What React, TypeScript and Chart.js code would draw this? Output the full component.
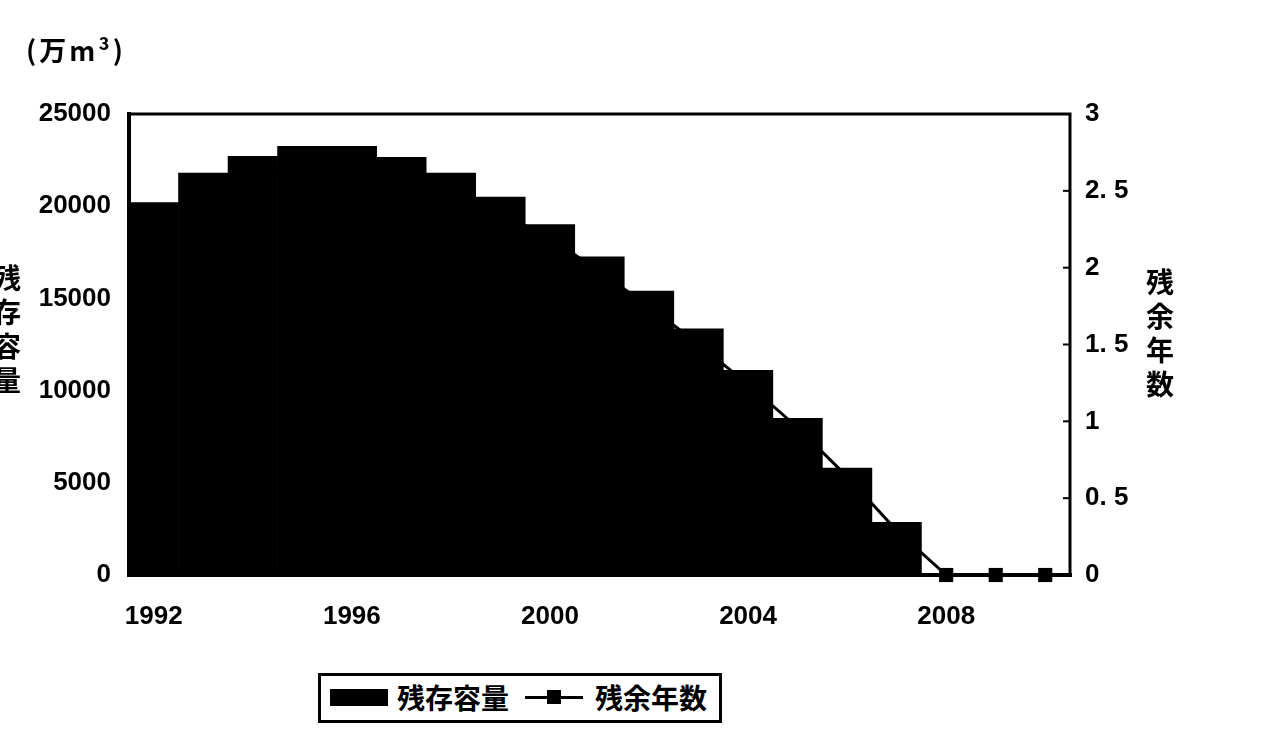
import React, { useEffect, useRef } from "react";
import { Chart, registerables } from "chart.js";

Chart.register(...registerables);

const years = [
  "1992", "1993", "1994", "1995", "1996", "1997", "1998", "1999", "2000", "2001",
  "2002", "2003", "2004", "2005", "2006", "2007", "2008", "2009", "2010",
];
const shownYearLabels = ["1992", "1996", "2000", "2004", "2008"];
// 残存容量 (万m³)
const capacity = [
  20200, 21800, 22700, 23250, 23250, 22650, 21800, 20500, 19000, 17250,
  15400, 13350, 11100, 8500, 5800, 2850, 0, 0, 0,
];
// 残余年数
const remainingYears = [
  2.3, 2.5, 2.6, 2.62, 2.6, 2.6, 2.44, 2.35, 2.2, 1.97,
  1.75, 1.5, 1.24, 0.96, 0.64, 0.29, 0, 0, 0,
];
const leftMax = 25000;
const leftStep = 5000;
const rightMax = 3;
const rightStep = 0.5;

const TICK_FONT = { family: "'Liberation Sans', Arial, sans-serif", size: 26, weight: "bold" as const };
const CJK = "'Noto Sans CJK JP', 'Noto Sans CJK SC', sans-serif";

const framePlugin = {
  id: "frame",
  afterDraw(chart: any) {
    const { ctx, chartArea } = chart;
    const { left, right, top, bottom } = chartArea;
    ctx.save();
    ctx.strokeStyle = "#000";
    ctx.lineCap = "square";
    ctx.lineWidth = 3;
    ctx.beginPath();
    ctx.moveTo(left, top);
    ctx.lineTo(right, top);
    ctx.lineTo(right, bottom);
    ctx.stroke();
    ctx.lineWidth = 4;
    ctx.beginPath();
    ctx.moveTo(left, top);
    ctx.lineTo(left, bottom);
    ctx.lineTo(right, bottom);
    ctx.stroke();
    const y1 = chart.scales.y1;
    ctx.lineWidth = 2;
    y1.ticks.forEach((t: any) => {
      const py = y1.getPixelForValue(t.value);
      ctx.beginPath();
      ctx.moveTo(right, py);
      ctx.lineTo(right - 6, py);
      ctx.stroke();
    });
    ctx.restore();
  },
};

export default function App() {
  const canvasRef = useRef<HTMLCanvasElement | null>(null);

  useEffect(() => {
    if (!canvasRef.current) return;
    const chart = new Chart(canvasRef.current, {
      type: "bar",
      data: {
        labels: years,
        datasets: [
          {
            type: "line" as const,
            label: "残余年数",
            data: remainingYears,
            yAxisID: "y1",
            borderColor: "#000",
            backgroundColor: "#000",
            borderWidth: 3,
            pointStyle: "rect",
            pointRadius: 10,
            pointBackgroundColor: "#000",
            pointBorderColor: "#000",
            pointBorderWidth: 0,
            tension: 0,
            clip: false as any,
            order: 1,
          },
          {
            type: "bar" as const,
            label: "残存容量",
            data: capacity,
            yAxisID: "y",
            backgroundColor: "#000",
            borderWidth: 0,
            categoryPercentage: 1,
            barPercentage: 1,
            order: 0,
          },
        ],
      },
      options: {
        animation: false,
        responsive: false,
        events: [],
        layout: { padding: { top: 114, left: 0, right: 0, bottom: 0 } },
        plugins: {
          legend: { display: false },
          tooltip: { enabled: false },
          title: { display: false },
        },
        scales: {
          x: {
            type: "category",
            offset: true,
            grid: { display: false, drawTicks: false },
            border: { display: false },
            ticks: {
              autoSkip: false,
              maxRotation: 0,
              minRotation: 0,
              padding: 26,
              color: "#000",
              font: TICK_FONT,
              callback: (_v: any, i: number) => (shownYearLabels.includes(years[i]) ? years[i] : ""),
            },
            afterFit: (s: any) => {
              s.height = 171;
            },
          },
          y: {
            position: "left",
            min: 0,
            max: leftMax,
            grid: { display: false, drawTicks: false },
            border: { display: false },
            ticks: {
              stepSize: leftStep,
              padding: 18,
              color: "#000",
              font: TICK_FONT,
              callback: (v: any) => String(v),
            },
            afterFit: (s: any) => {
              s.width = 129;
            },
          },
          y1: {
            position: "right",
            min: 0,
            max: rightMax,
            grid: { display: false, drawTicks: false },
            border: { display: false },
            ticks: {
              stepSize: rightStep,
              padding: 15,
              color: "#000",
              font: TICK_FONT,
              callback: (v: any) => String(v).replace(".", ". "),
            },
            afterFit: (s: any) => {
              s.width = 210;
            },
          },
        },
      },
      plugins: [framePlugin],
    });
    return () => chart.destroy();
  }, []);

  const vertTitle: React.CSSProperties = {
    position: "absolute",
    fontFamily: CJK,
    fontWeight: 700,
    fontSize: 28,
    lineHeight: "34px",
    width: 30,
    textAlign: "center",
    color: "#000",
  };

  return (
    <div style={{ position: "absolute", left: 0, top: 0, width: 1280, height: 746, background: "#fff", overflow: "hidden" }}>
      <canvas ref={canvasRef} width={1280} height={746} style={{ position: "absolute", left: 0, top: 0, width: 1280, height: 746 }} />
      <div
        style={{
          position: "absolute",
          left: 26,
          top: 30,
          fontFamily: CJK,
          fontWeight: 700,
          fontSize: 27,
          letterSpacing: 3,
          color: "#000",
          whiteSpace: "nowrap",
        }}
      >
        (万m³)
      </div>
      <div style={{ ...vertTitle, left: -8, top: 260 }}>
        残<br />存<br />容<br />量
      </div>
      <div style={{ ...vertTitle, left: 1145, top: 264 }}>
        残<br />余<br />年<br />数
      </div>
      <div
        style={{
          position: "absolute",
          left: 318,
          top: 673,
          width: 398,
          height: 44,
          border: "3px solid #000",
          background: "#fff",
        }}
      >
        <div style={{ position: "absolute", left: 9, top: 13, width: 58, height: 17, background: "#000" }} />
        <div
          style={{
            position: "absolute",
            left: 76,
            top: 1,
            fontFamily: CJK,
            fontWeight: 700,
            fontSize: 28,
            lineHeight: "40px",
            color: "#000",
            whiteSpace: "nowrap",
          }}
        >
          残存容量
        </div>
        <div style={{ position: "absolute", left: 204, top: 20, width: 58, height: 3, background: "#000" }} />
        <div style={{ position: "absolute", left: 226, top: 14, width: 14, height: 14, background: "#000" }} />
        <div
          style={{
            position: "absolute",
            left: 274,
            top: 1,
            fontFamily: CJK,
            fontWeight: 700,
            fontSize: 28,
            lineHeight: "40px",
            color: "#000",
            whiteSpace: "nowrap",
          }}
        >
          残余年数
        </div>
      </div>
    </div>
  );
}
